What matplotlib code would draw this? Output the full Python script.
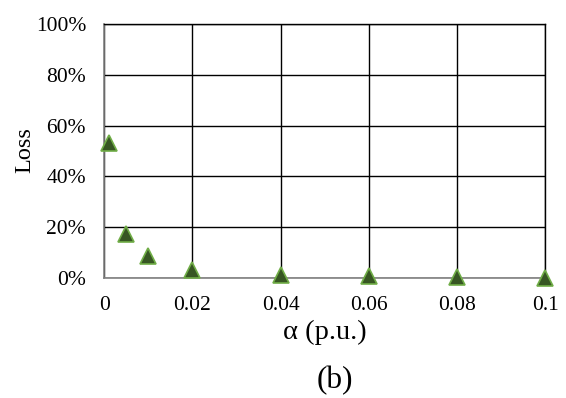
import numpy as np
import matplotlib.pyplot as plt
from matplotlib.ticker import FuncFormatter

alpha = [0.001, 0.005, 0.01, 0.02, 0.04, 0.06, 0.08, 0.1]
loss = [0.53, 0.175, 0.085, 0.03, 0.012, 0.006, 0.002, 0.001]

x_ticks = [0, 0.02, 0.04, 0.06, 0.08, 0.1]
x_labels = ['0', '0.02', '0.04', '0.06', '0.08', '0.1']
y_ticks = [0, 0.2, 0.4, 0.6, 0.8, 1.0]

plt.rcParams['font.family'] = ['Liberation Serif', 'DejaVu Serif']

fig = plt.figure(figsize=(5.66, 3.98), dpi=100)
ax = fig.add_axes([0.184, 0.3015, 0.779, 0.6385])

ax.plot(alpha, loss, linestyle='none', marker='^', markersize=12,
        markerfacecolor='#375623', markeredgecolor='#70AD47', markeredgewidth=1.2,
        clip_on=False, zorder=5)

ax.set_xlim(0, 0.1)
ax.set_ylim(0, 1.0)
ax.set_xticks(x_ticks)
ax.set_xticklabels(x_labels)
ax.set_yticks(y_ticks)
ax.yaxis.set_major_formatter(FuncFormatter(lambda v, p: f'{v*100:.0f}%'))
ax.tick_params(length=0, labelsize=15.5)
ax.tick_params(axis='y', pad=13)
ax.tick_params(axis='x', pad=13)

ax.grid(True, color='black', linewidth=1.0)
ax.set_axisbelow(True)
for side in ['top', 'right']:
    ax.spines[side].set_color('black')
    ax.spines[side].set_linewidth(1.0)
for side in ['left', 'bottom']:
    ax.spines[side].set_color('#808080')
    ax.spines[side].set_linewidth(1.2)

# axis titles placed directly in figure coordinates
fig.text(0.574, 0.166, 'α (p.u.)', ha='center', va='center', fontsize=20.5)
fig.text(0.044, 0.622, 'Loss', ha='center', va='center', rotation=90, fontsize=17.5)
fig.text(0.592, 0.043, '(b)', ha='center', va='center', fontsize=22.5)

fig.savefig('out.png', dpi=100)
